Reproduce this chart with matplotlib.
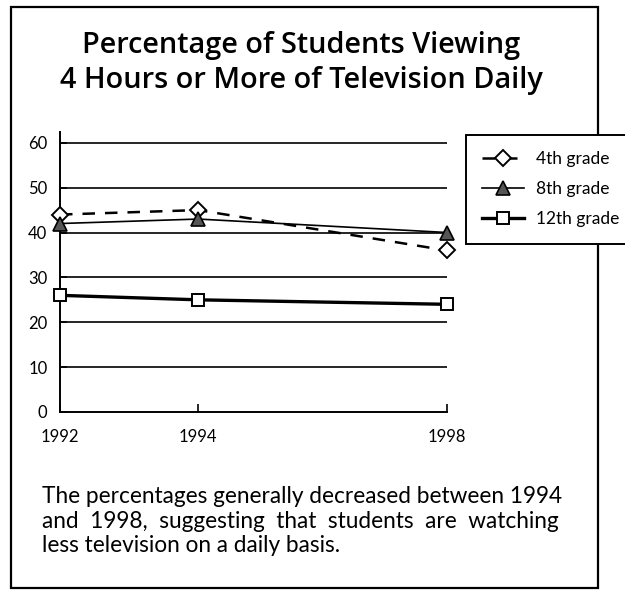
import matplotlib.pyplot as plt
import numpy as np
from matplotlib.patches import Rectangle

# Data
years = [1992, 1994, 1998]
grade4 = [44, 45, 36]
grade8 = [42, 43, 40]
grade12 = [26, 25, 24]
series_names = ['4th grade', '8th grade', '12th grade']
y_ticks = [0, 10, 20, 30, 40, 50, 60]

title = 'Percentage of Students Viewing\n4 Hours or More of Television Daily'
caption = ('The percentages generally decreased between 1994\n'
           'and  1998,  suggesting  that  students  are  watching\n'
           'less television on a daily basis.')

plt.rcParams['font.family'] = ['Lato', 'DejaVu Sans']

W, H = 625, 592
fig = plt.figure(figsize=(W / 100, H / 100), dpi=100)


def fx(px):
    return px / W


def fy(py):
    return 1 - py / H


# Outer frame (drawn below the axes so the legend box covers it)
fig.patches.append(Rectangle((fx(11), fy(588)), fx(598) - fx(11), fy(7) - fy(588),
                             transform=fig.transFigure, fill=False, lw=1.6,
                             edgecolor='black', zorder=-1))

# Title
fig.text(fx(301), fy(63), title, ha='center', va='center', fontsize=20.8,
         family=['Open Sans', 'DejaVu Sans'], fontweight='semibold',
         linespacing=1.3)

# Axes; the year axis in the original is not evenly spaced
ax = fig.add_axes([fx(60), fy(412), fx(447) - fx(60), fy(132) - fy(412)])
ax.patch.set_visible(False)
year_pos = [0, 1, 2.8]


def fwd(x):
    return np.interp(x, years, year_pos)


def inv(x):
    return np.interp(x, year_pos, years)


ax.set_xscale('function', functions=(fwd, inv))
ax.set_xlim(years[0], years[-1])
ax.set_ylim(0, 62.4)

for v in y_ticks[1:]:
    ax.axhline(v, color='black', lw=1.2, zorder=1)

ax.plot(years, grade4, ls=(0, (5, 4)), lw=1.8, color='black', marker='D',
        ms=8, mfc='white', mec='black', mew=1.4, clip_on=False, zorder=3,
        label=series_names[0])
ax.plot(years, grade8, ls='-', lw=1.2, color='black', marker='^',
        ms=10, mfc='#555555', mec='black', mew=1.2, clip_on=False, zorder=3,
        label=series_names[1])
ax.plot(years, grade12, ls='-', lw=2.4, color='black', marker='s',
        ms=9, mfc='white', mec='black', mew=1.4, clip_on=False, zorder=3,
        label=series_names[2])

for side in ['top', 'right']:
    ax.spines[side].set_visible(False)
ax.spines['left'].set_linewidth(1.4)
ax.spines['bottom'].set_linewidth(1.4)

ax.set_yticks(y_ticks)
ax.set_yticklabels([str(v) for v in y_ticks], fontsize=12)
ax.set_xticks(years)
ax.set_xticklabels([str(y) for y in years], fontsize=12)
ax.tick_params(axis='y', direction='in', length=5, width=1.2, pad=9)
ax.tick_params(axis='x', direction='in', length=6, width=1.2, pad=12)

leg = ax.legend(loc='upper left', bbox_to_anchor=(fx(466), fy(135)),
                bbox_transform=fig.transFigure, fontsize=12.5, frameon=True,
                fancybox=False, edgecolor='black', facecolor='white',
                framealpha=1, handlelength=2.4,
                handletextpad=0.7, borderpad=0.95, labelspacing=0.8,
                borderaxespad=0)
leg.get_frame().set_linewidth(1.4)

# Caption under the chart
fig.text(fx(42), fy(521), caption, ha='left', va='center', fontsize=16.3,
         linespacing=1.2)

fig.savefig('out.png', dpi=100)
